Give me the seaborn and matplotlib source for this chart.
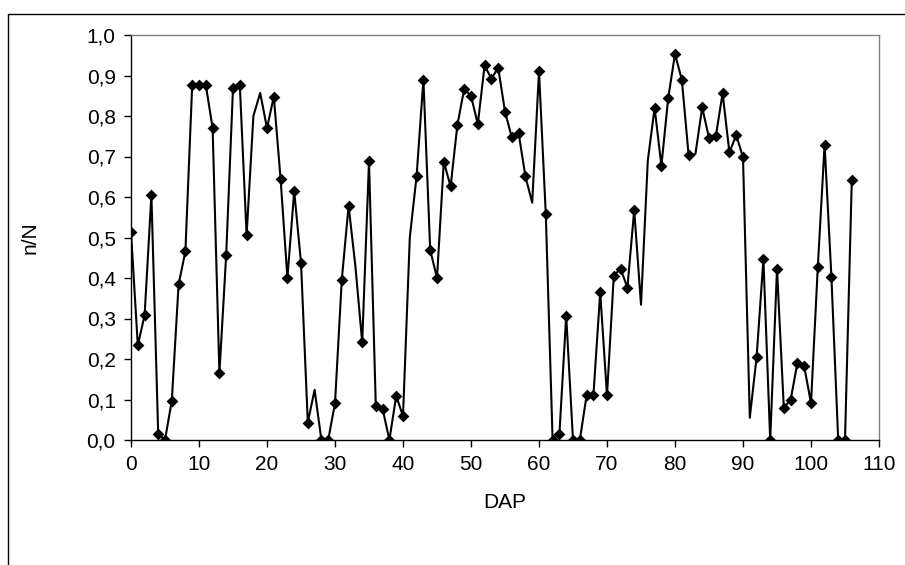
import numpy as np
import pandas as pd
import matplotlib
matplotlib.use("Agg")
import matplotlib.pyplot as plt
from matplotlib.lines import Line2D
import seaborn as sns

# ---- data ----
dap = list(range(0, 107))
ratio = [
    0.514, 0.234, 0.308, 0.605, 0.015, 0.000, 0.097, 0.384, 0.466, 0.877,  # 0-9
    0.877, 0.877, 0.770, 0.165, 0.458, 0.869, 0.877, 0.506, 0.800, 0.857,  # 10-19
    0.770, 0.848, 0.644, 0.400, 0.614, 0.438, 0.043, 0.124, 0.000, 0.000,  # 20-29
    0.091, 0.396, 0.578, 0.429, 0.241, 0.688, 0.084, 0.077, 0.000, 0.109,  # 30-39
    0.059, 0.500, 0.652, 0.890, 0.469, 0.400, 0.687, 0.626, 0.778, 0.867,  # 40-49
    0.850, 0.780, 0.925, 0.892, 0.919, 0.811, 0.747, 0.758, 0.651, 0.586,  # 50-59
    0.910, 0.557, 0.000, 0.015, 0.307, 0.000, 0.000, 0.110, 0.110, 0.365,  # 60-69
    0.110, 0.406, 0.423, 0.376, 0.568, 0.334, 0.690, 0.820, 0.677, 0.844,  # 70-79
    0.953, 0.890, 0.704, 0.706, 0.821, 0.746, 0.750, 0.856, 0.710, 0.753,  # 80-89
    0.698, 0.055, 0.205, 0.446, 0.000, 0.423, 0.080, 0.099, 0.190, 0.182,  # 90-99
    0.091, 0.427, 0.729, 0.403, 0.000, 0.000, 0.642,                       # 100-106
]
# days drawn on the line but shown without a marker in the reference
dap_no_marker = [18, 19, 27, 33, 41, 59, 75, 76, 83, 91]

x_ticks = list(range(0, 111, 10))
y_ticks = [round(0.1 * i, 1) for i in range(11)]
y_tick_labels = [f"{v:.1f}".replace(".", ",") for v in y_ticks]

df = pd.DataFrame({"DAP": dap, "nN": ratio})
df_marked = df[~df["DAP"].isin(dap_no_marker)]

# ---- style ----
sns.set_style("ticks")
plt.rcParams["font.family"] = ["Liberation Sans", "DejaVu Sans"]
plt.rcParams["text.color"] = "black"
plt.rcParams["axes.labelcolor"] = "black"

fig = plt.figure(figsize=(9.05, 5.65), dpi=100)
W, H = 905, 565
ax = fig.add_axes([131 / W, (H - 440) / H, (879 - 131) / W, (440 - 35) / H])

sns.lineplot(data=df, x="DAP", y="nN", ax=ax, color="black", linewidth=1.5,
             estimator=None, sort=False)
sns.scatterplot(data=df_marked, x="DAP", y="nN", ax=ax, color="black",
                marker="D", s=36, edgecolor="black", linewidth=0, zorder=3)

ax.set_xlim(0, 110)
ax.set_ylim(0, 1.0)
ax.set_xticks(x_ticks)
ax.set_xticklabels([str(t) for t in x_ticks])
ax.set_yticks(y_ticks)
ax.set_yticklabels(y_tick_labels)
ax.tick_params(axis="both", direction="out", length=5, width=1, color="black",
               labelsize=15, labelcolor="black", pad=6)
ax.set_xlabel("DAP", fontsize=15, color="black")
ax.set_ylabel("n/N", fontsize=15, color="black")
ax.xaxis.set_label_coords(0.5, (440 - 493) / 405)
ax.yaxis.set_label_coords((40 - 131) / 748, 0.5)

for side in ["left", "bottom"]:
    ax.spines[side].set_color("black")
    ax.spines[side].set_linewidth(1.0)
for side in ["top", "right"]:
    ax.spines[side].set_visible(True)
    ax.spines[side].set_color("#808080")
    ax.spines[side].set_linewidth(1.0)

# outer chart-area border (top and left edges visible in the reference)
fig.add_artist(Line2D([8 / W, 1.0], [1 - 14 / H, 1 - 14 / H],
                      transform=fig.transFigure, color="black", linewidth=1.0))
fig.add_artist(Line2D([8 / W, 8 / W], [0.0, 1 - 14 / H],
                      transform=fig.transFigure, color="black", linewidth=1.0))

fig.savefig("out.png", dpi=100, facecolor="white")
